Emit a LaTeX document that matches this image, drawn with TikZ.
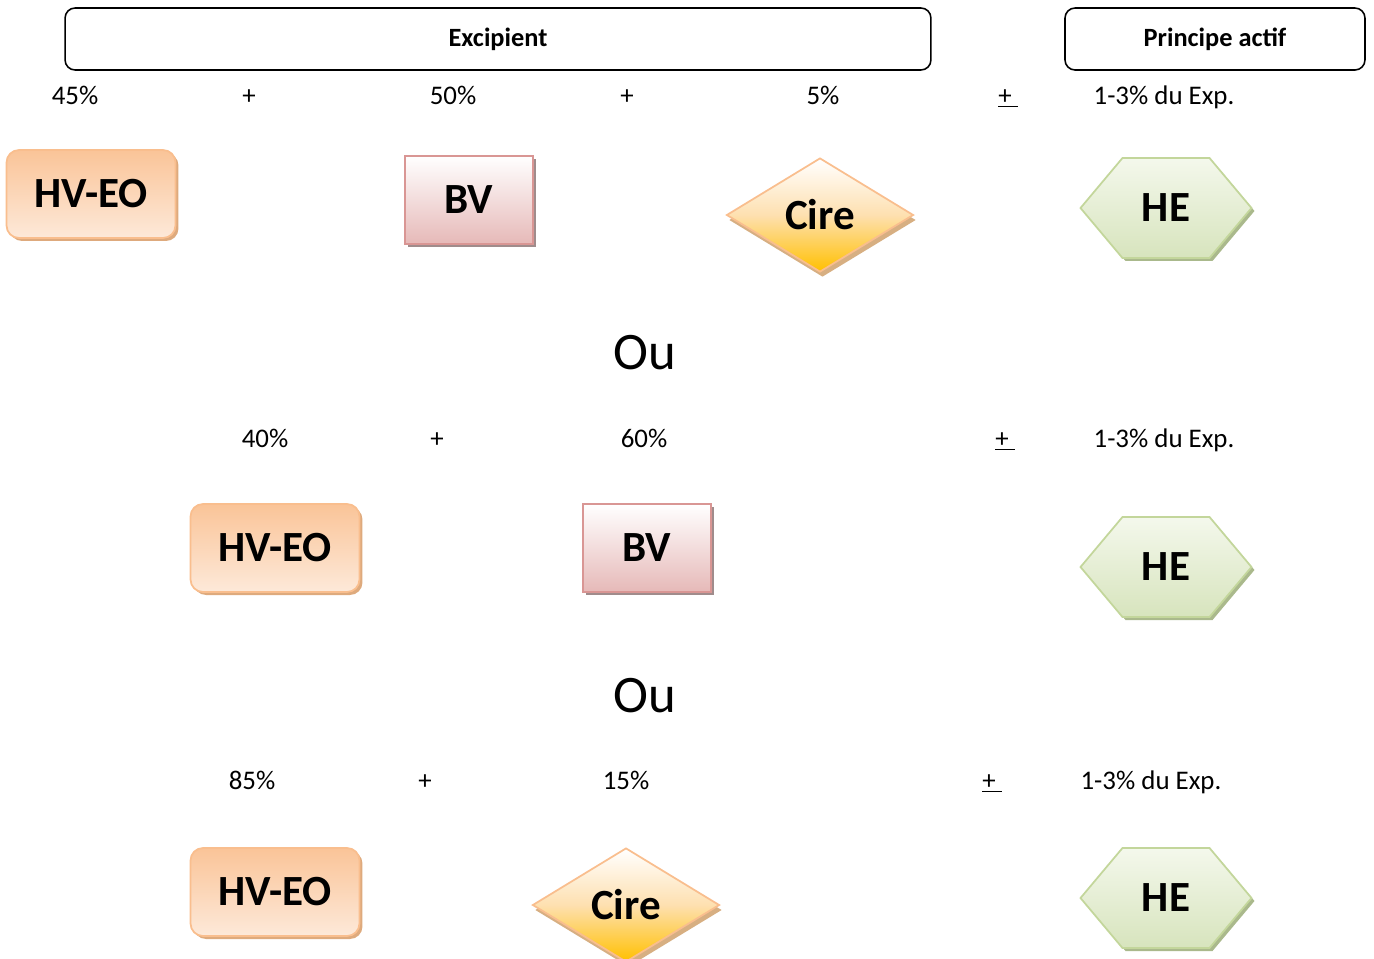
\documentclass[tikz,border=0pt]{standalone}
\usepackage{fontspec}
\setmainfont{Carlito}
\usepackage{xcolor}
\usepackage{tikz}
\usetikzlibrary{shapes.geometric, shapes.symbols, shadows}
\definecolor{peachline}{RGB}{249, 190, 142}
\definecolor{peachdark}{RGB}{250, 196, 152}
\definecolor{peachlight}{RGB}{253, 233, 217}
\definecolor{peachshadow}{RGB}{222, 170, 125}
\definecolor{roseline}{RGB}{217, 150, 148}
\definecolor{rosefill}{RGB}{230, 185, 184}
\definecolor{roseshadow}{RGB}{160, 140, 140}
\definecolor{waxmid}{RGB}{254, 224, 176}
\definecolor{waxfill}{RGB}{255, 192, 0}
\definecolor{waxshadow}{RGB}{215, 175, 130}
\definecolor{leafline}{RGB}{195, 214, 155}
\definecolor{leaftop}{RGB}{244, 248, 236}
\definecolor{leaffill}{RGB}{215, 228, 189}
\definecolor{leafshadow}{RGB}{170, 185, 140}

\begin{document}
\begin{tikzpicture}[x=0.02cm, y=-0.02cm,
    frame/.style={rectangle, rounded corners=0.2cm, draw=black, line width=0.9pt, minimum height=1.24cm, font=\fontsize{15}{17}\selectfont\bfseries},
    pct/.style={anchor=base, font=\fontsize{15.3}{18}\selectfont},
    orword/.style={anchor=base, font=\fontsize{30}{34}\selectfont},
    hveo/.style={rectangle, rounded corners=0.25cm, draw=peachline, line width=1pt, top color=peachdark, bottom color=peachlight, minimum width=3.38cm, minimum height=1.76cm, font=\fontsize{24.5}{28}\selectfont\bfseries, drop shadow={shadow xshift=0.06cm, shadow yshift=-0.06cm, fill=peachshadow, opacity=1}},
    bv/.style={rectangle, draw=roseline, line width=1pt, top color=white, bottom color=rosefill, minimum width=2.56cm, minimum height=1.76cm, font=\fontsize{24.5}{28}\selectfont\bfseries, drop shadow={shadow xshift=0.06cm, shadow yshift=-0.06cm, fill=roseshadow, opacity=1}},
    cire/.style={diamond, aspect=1.64, inner sep=0pt, draw=peachline, line width=1pt, top color=white, bottom color=waxfill, middle color=waxmid, minimum width=3.74cm, minimum height=2.28cm, font=\fontsize{24.5}{28}\selectfont\bfseries, drop shadow={shadow xshift=0.05cm, shadow yshift=-0.1cm, fill=waxshadow, opacity=1}},
    he/.style={signal, signal to=west and east, signal pointer angle=100, draw=leafline, line width=1pt, top color=leaftop, bottom color=leaffill, minimum width=3.42cm, minimum height=2cm, font=\fontsize{24.5}{28}\selectfont\bfseries, drop shadow={shadow xshift=0.06cm, shadow yshift=-0.06cm, fill=leafshadow, opacity=1}}
]
    \useasboundingbox (0,0) rectangle (1374,958);

    % Headers
    \node[frame, minimum width=17.32cm] (excip) at (498,39) {Excipient};
    \node[frame, minimum width=6cm] (actif) at (1215,39) {Principe actif};

    % Row 1
    \node[pct] (r1a) at (75,104) {45\%};
    \node[pct] (r1b) at (249,104) {+};
    \node[pct] (r1c) at (453,104) {50\%};
    \node[pct] (r1d) at (627,104) {+};
    \node[pct] (r1e) at (823,104) {5\%};
    \node[pct] (r1f) at (1008,104) {\underline{+\ }};
    \node[pct] (r1g) at (1164,104) {1-3\% du Exp.};

    \node[hveo] (hv1) at (91,194) {HV-EO};
    \node[bv] (bv1) at (469,200) {BV};
    \node[cire] (cire1) at (820,215) {Cire};
    \node[he] (he1) at (1166,208) {HE};

    \node[orword] (ou1) at (645,369) {Ou};

    % Row 2
    \node[pct] (r2a) at (265,447) {40\%};
    \node[pct] (r2b) at (437,447) {+};
    \node[pct] (r2c) at (644,447) {60\%};
    \node[pct] (r2f) at (1005,447) {\underline{+\ }};
    \node[pct] (r2g) at (1164,447) {1-3\% du Exp.};

    \node[hveo] (hv2) at (275,548) {HV-EO};
    \node[bv] (bv2) at (647,548) {BV};
    \node[he] (he2) at (1166,567) {HE};

    \node[orword] (ou2) at (645,712) {Ou};

    % Row 3
    \node[pct] (r3a) at (252,789) {85\%};
    \node[pct] (r3b) at (425,789) {+};
    \node[pct] (r3c) at (626,789) {15\%};
    \node[pct] (r3f) at (992,789) {\underline{+\ }};
    \node[pct] (r3g) at (1151,789) {1-3\% du Exp.};

    \node[hveo] (hv3) at (275,892) {HV-EO};
    \node[cire] (cire3) at (626,905) {Cire};
    \node[he] (he3) at (1166,898) {HE};
\end{tikzpicture}
\end{document}
